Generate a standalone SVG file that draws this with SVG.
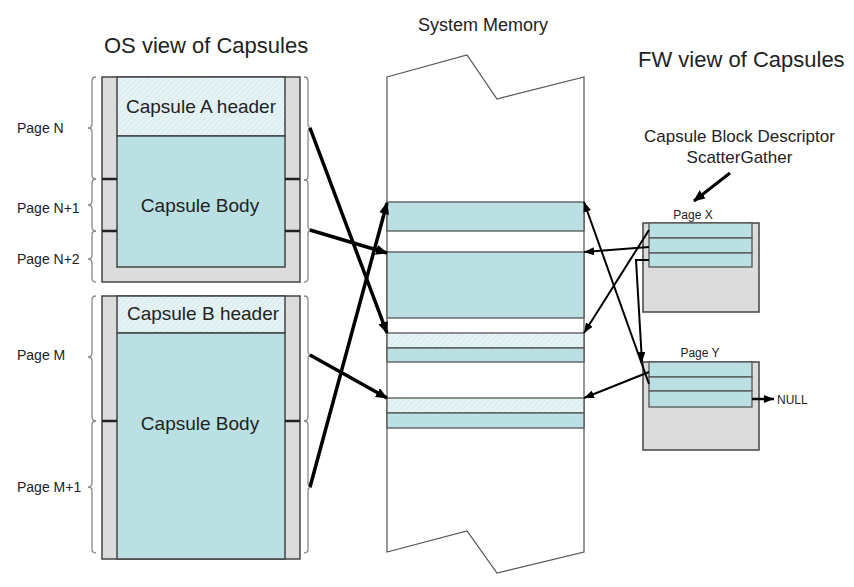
<svg xmlns="http://www.w3.org/2000/svg" width="854" height="587" viewBox="0 0 854 587">
<defs>
<pattern id="hatch" width="4" height="4" patternUnits="userSpaceOnUse" patternTransform="rotate(45)">
<rect width="4" height="4" fill="#e5f3f5"/>
<line x1="0" y1="0" x2="0" y2="4" stroke="#d3e8eb" stroke-width="1.5"/>
</pattern>
<marker id="ahBig" markerUnits="userSpaceOnUse" markerWidth="12" markerHeight="10" refX="11" refY="5" orient="auto">
<path d="M0,0 L12,5 L0,10 Z" fill="#000"/>
</marker>
<marker id="ahSmall" markerUnits="userSpaceOnUse" markerWidth="10" markerHeight="8" refX="10" refY="4" orient="auto">
<path d="M0,0 L10,4 L0,8 Z" fill="#000"/>
</marker>
</defs>
<style>
text{font-family:"Liberation Sans",Arial,sans-serif;fill:#222}
.title{font-size:22px}
.cap{font-size:19px;text-anchor:middle}
.pg{font-size:14px}
.sm{font-size:12px}
.frame{fill:#dcdcdc;stroke:#444;stroke-width:1.5}
.body{fill:#bae0e3;stroke:#444;stroke-width:1.5}
.hdr{fill:url(#hatch);stroke:#444;stroke-width:1.5}
.tick{stroke:#222;stroke-width:2.5}
.brace{fill:none;stroke:#888;stroke-width:1.3}
.mem{fill:#fff;stroke:#555;stroke-width:1.2}
.blk{fill:#bae0e3;stroke:#555;stroke-width:1.3}
.blkh{fill:url(#hatch);stroke:#555;stroke-width:1.3}
.thick{fill:none;stroke:#000;stroke-width:3.5;marker-end:url(#ahBig)}
.thin{fill:none;stroke:#000;stroke-width:2;marker-end:url(#ahSmall)}
</style>
<rect width="854" height="587" fill="#fff"/>
<g id="titles">
<text class="title" x="104" y="53">OS view of Capsules</text>
<text class="title" x="418" y="31" style="font-size:18px">System Memory</text>
<text class="title" x="638" y="67">FW view of Capsules</text>
</g>
<g id="capsuleA">
<rect class="frame" x="102" y="77" width="198" height="205"/>
<rect class="hdr" x="117" y="77" width="168" height="59"/>
<rect class="body" x="117" y="136" width="168" height="131"/>
<line class="tick" x1="102" y1="179" x2="117" y2="179"/>
<line class="tick" x1="285" y1="179" x2="300" y2="179"/>
<line class="tick" x1="102" y1="231" x2="117" y2="231"/>
<line class="tick" x1="285" y1="231" x2="300" y2="231"/>
<text class="cap" x="201" y="113">Capsule A header</text>
<text class="cap" x="200" y="212">Capsule Body</text>
</g>
<g id="capsuleB">
<rect class="frame" x="102" y="296" width="198" height="263"/>
<rect class="hdr" x="117" y="296" width="168" height="37"/>
<rect class="body" x="117" y="333" width="168" height="226"/>
<line class="tick" x1="102" y1="421" x2="117" y2="421"/>
<line class="tick" x1="285" y1="421" x2="300" y2="421"/>
<text class="cap" x="203" y="320">Capsule B header</text>
<text class="cap" x="200" y="430">Capsule Body</text>
</g>
<g id="pageLabels">
<text class="pg" x="17" y="133">Page N</text>
<text class="pg" x="17" y="213">Page N+1</text>
<text class="pg" x="17" y="264">Page N+2</text>
<text class="pg" x="17" y="360">Page M</text>
<text class="pg" x="17" y="492">Page M+1</text>
</g>
<g id="braces">
<path class="brace" d="M96,77 Q92,77 92,81 L92,124 Q92,128 88,128 Q92,128 92,132 L92,175 Q92,179 96,179"/>
<path class="brace" d="M96,179 Q92,179 92,183 L92,201 Q92,205 88,205 Q92,205 92,209 L92,227 Q92,231 96,231"/>
<path class="brace" d="M96,231 Q92,231 92,235 L92,255 Q92,259 88,259 Q92,259 92,263 L92,278 Q92,282 96,282"/>
<path class="brace" d="M96,296 Q92,296 92,300 L92,353 Q92,357 88,357 Q92,357 92,361 L92,417 Q92,421 96,421"/>
<path class="brace" d="M96,421 Q92,421 92,425 L92,483 Q92,487 88,487 Q92,487 92,491 L92,549 Q92,553 96,553"/>
<path class="brace" d="M304,77 Q308,77 308,81 L308,124 Q308,128 312,128 Q308,128 308,132 L308,176 Q308,180 304,180"/>
<path class="brace" d="M304,180 Q308,180 308,184 L308,226 Q308,230 312,230 Q308,230 308,234 L308,278 Q308,282 304,282"/>
<path class="brace" d="M304,296 Q308,296 308,300 L308,351 Q308,355 312,355 Q308,355 308,359 L308,417 Q308,421 304,421"/>
<path class="brace" d="M304,421 Q308,421 308,425 L308,483 Q308,487 312,487 Q308,487 308,491 L308,549 Q308,553 304,553"/>
</g>
<g id="systemMemory">
<path class="mem" d="M387,77 L467,55 L497,99 L584,77 L584,552 L497,573 L467,531 L387,552 Z"/>
<rect class="blk" x="387" y="202" width="197" height="29"/>
<rect class="blk" x="387" y="252" width="197" height="66"/>
<rect class="blkh" x="387" y="333" width="197" height="15"/>
<rect class="blk" x="387" y="348" width="197" height="14"/>
<rect class="blkh" x="387" y="398" width="197" height="15"/>
<rect class="blk" x="387" y="413" width="197" height="15"/>
</g>
<g id="descriptorLabel">
<text x="739.5" y="142" style="font-size:17px;text-anchor:middle">Capsule Block Descriptor</text>
<text x="739.5" y="163" style="font-size:17px;text-anchor:middle">ScatterGather</text>
</g>
<g id="pageX">
<text class="sm" x="693" y="219" text-anchor="middle">Page X</text>
<rect class="frame" x="643" y="223" width="116" height="89"/>
<rect class="blk" x="649" y="223" width="103" height="15"/>
<rect class="blk" x="649" y="238" width="103" height="15"/>
<rect class="blk" x="649" y="253" width="103" height="14"/>
</g>
<g id="pageY">
<text class="sm" x="700" y="357" text-anchor="middle">Page Y</text>
<rect class="frame" x="643" y="362" width="116" height="88"/>
<rect class="blk" x="649" y="362" width="103" height="15"/>
<rect class="blk" x="649" y="377" width="103" height="14"/>
<rect class="blk" x="649" y="391" width="103" height="16"/>
</g>
<g id="null">
<text class="sm" x="777" y="404">NULL</text>
</g>
<g id="connectors">
<line class="thick" x1="310" y1="128" x2="387" y2="333"/>
<line class="thick" x1="310" y1="230" x2="387" y2="253"/>
<line class="thick" x1="310" y1="355" x2="387" y2="398"/>
<line class="thick" x1="310" y1="487" x2="387" y2="203"/>
<line class="thin" x1="649" y1="230" x2="584" y2="333"/>
<line class="thin" x1="649" y1="247" x2="584" y2="252"/>
<polyline class="thin" points="649,260 636,260 642,362"/>
<line class="thin" x1="649" y1="384" x2="584" y2="202"/>
<line class="thin" x1="649" y1="372" x2="584" y2="398"/>
<line class="thick" style="stroke-width:3" x1="730" y1="173" x2="694" y2="201"/>
<line class="thin" style="stroke-width:2.5" x1="752" y1="399" x2="774" y2="399"/>
</g>
</svg>
